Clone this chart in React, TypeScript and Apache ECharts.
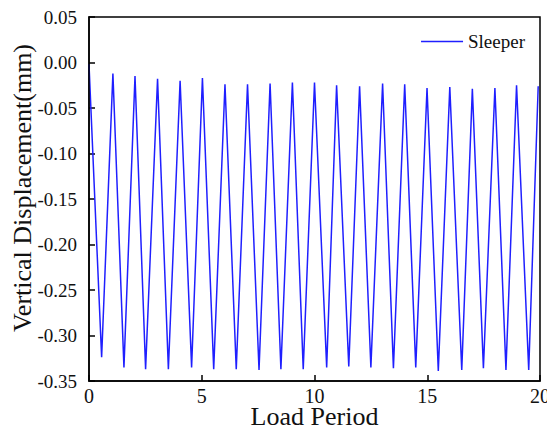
import React, { useEffect, useRef } from "react";
import * as echarts from "echarts";

const peakX = [0, 1.06, 2.04, 3.04, 4.04, 5.03, 6.03, 7.03, 8.03, 9.02, 10.0, 10.98, 12.0, 13.02, 14.0, 14.99, 16.0, 17.0, 18.0, 18.96, 19.92];
const peakY = [-0.002, -0.012, -0.015, -0.018, -0.02, -0.017, -0.024, -0.024, -0.023, -0.022, -0.022, -0.025, -0.026, -0.023, -0.024, -0.028, -0.027, -0.029, -0.028, -0.025, -0.026];
const troughX = [0.56, 1.55, 2.51, 3.52, 4.55, 5.53, 6.53, 7.54, 8.51, 9.5, 10.54, 11.52, 12.5, 13.5, 14.49, 15.49, 16.53, 17.49, 18.49, 19.5];
const troughY = [-0.324, -0.335, -0.337, -0.337, -0.335, -0.337, -0.337, -0.338, -0.337, -0.337, -0.335, -0.334, -0.335, -0.336, -0.335, -0.339, -0.338, -0.336, -0.338, -0.338];

const seriesName = "Sleeper";
const xName = "Load Period";
const yName = "Vertical Displacement(mm)";

const FONT = "'Liberation Serif', 'Times New Roman', serif";
const LINE_COLOR = "#1f1fff";

export default function App() {
  const ref = useRef<HTMLDivElement>(null);
  useEffect(() => {
    if (!ref.current) return;
    const chart = echarts.init(ref.current, null, { renderer: "svg" });
    const data: number[][] = [];
    for (let i = 0; i < peakX.length; i++) {
      data.push([peakX[i], peakY[i]]);
      if (i < troughX.length) data.push([troughX[i], troughY[i]]);
    }
    chart.setOption({
      animation: false,
      grid: { left: 89, right: 7, top: 17, bottom: 51, containLabel: false, outerBoundsMode: "none" },
      legend: {
        data: [{ name: seriesName, icon: "rect" }],
        right: 17,
        top: 27,
        itemWidth: 42,
        itemHeight: 1.5,
        itemGap: 4,
        itemStyle: { color: LINE_COLOR },
        textStyle: { fontFamily: FONT, fontSize: 19, color: "#111" },
      },
      xAxis: {
        type: "value",
        min: 0,
        max: 20,
        interval: 5,
        name: xName,
        nameLocation: "middle",
        nameGap: 22,
        nameMoveOverlap: false,
        nameTextStyle: { fontFamily: FONT, fontSize: 26, color: "#111" },
        axisLine: { show: true, onZero: false, lineStyle: { color: "#000", width: 1.5 } },
        axisTick: { show: true, inside: true, length: 6, lineStyle: { color: "#000", width: 1.5 } },
        axisLabel: { fontFamily: FONT, fontSize: 20, color: "#111", margin: 5 },
        splitLine: { show: false },
      },
      yAxis: {
        type: "value",
        min: -0.35,
        max: 0.05,
        interval: 0.05,
        axisLine: { show: true, onZero: false, lineStyle: { color: "#000", width: 1.5 } },
        axisTick: { show: true, inside: true, length: 6, lineStyle: { color: "#000", width: 1.5 } },
        axisLabel: {
          fontFamily: FONT,
          fontSize: 19,
          color: "#111",
          margin: 12,
          formatter: (v: number) => v.toFixed(2),
        },
        splitLine: { show: false },
      },
      graphic: [
        {
          type: "rect",
          shape: { x: 89, y: 17, width: 451, height: 364 },
          style: { fill: "none", stroke: "#000", lineWidth: 1.5 },
          silent: true,
          z: 10,
        },
        {
          type: "text",
          x: 22,
          y: 188,
          rotation: Math.PI / 2,
          style: {
            text: yName,
            fontFamily: FONT,
            fontSize: 26,
            fill: "#111",
            align: "center",
            verticalAlign: "middle",
          },
        },
      ],
      series: [
        {
          name: seriesName,
          type: "line",
          data,
          showSymbol: false,
          symbol: "none",
          lineStyle: { color: LINE_COLOR, width: 1.5 },
          itemStyle: { color: LINE_COLOR },
        },
      ],
    });
    return () => chart.dispose();
  }, []);
  return (
    <div style={{ position: "absolute", left: 0, top: 0 }}>
      <div ref={ref} style={{ width: 547, height: 432 }} />
    </div>
  );
}
